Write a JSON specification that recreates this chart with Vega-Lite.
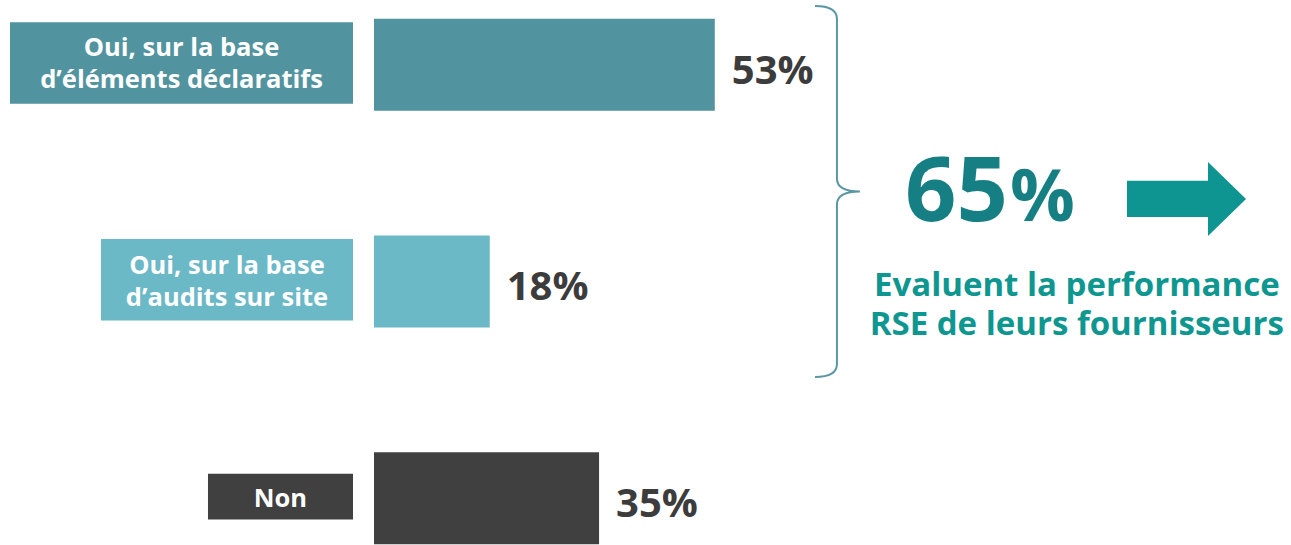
{
  "$schema": "https://vega.github.io/schema/vega-lite/v6.json",
  "width": 1291,
  "height": 545,
  "autosize": {"type": "fit", "contains": "padding"},
  "padding": 0,
  "background": "white",
  "config": {"view": {"stroke": null}, "font": "Open Sans"},
  "datasets": {
    "rows": [
      {"rank": 1, "label": "Oui, sur la base\nd’éléments déclaratifs", "value": 53, "group": "decl"},
      {"rank": 2, "label": "Oui, sur la base\nd’audits sur site", "value": 18, "group": "audit"},
      {"rank": 3, "label": "Non", "value": 35, "group": "non"}
    ],
    "notes": [
      {"item": "accolade"}
    ]
  },
  "data": {"name": "rows"},
  "layer": [
    {
      "transform": [
        {"calculate": "[-56.61, -42.46, -25.82][datum.rank - 1]", "as": "boxLeft"},
        {"calculate": "datum.rank == 3 ? 0.1055 : 0.188", "as": "halfH"},
        {"calculate": "datum.rank - 0.008 - datum.halfH", "as": "y0"},
        {"calculate": "datum.rank - 0.008 + datum.halfH", "as": "y1"}
      ],
      "mark": {"type": "rect"},
      "encoding": {
        "x": {"field": "boxLeft", "type": "quantitative", "scale": {"domain": [-58.165, 142.61], "nice": false, "zero": false, "padding": 0}, "axis": null},
        "x2": {"datum": -3.266},
        "y": {"field": "y0", "type": "quantitative", "scale": {"domain": [0.7018, 3.2018], "reverse": true, "nice": false, "zero": false, "padding": 0}, "axis": null},
        "y2": {"field": "y1"},
        "color": {"field": "group", "type": "nominal", "scale": {"domain": ["decl", "audit", "non"], "range": ["#5293a0", "#6bb8c7", "#404040"]}, "legend": null}
      }
    },
    {
      "transform": [
        {"calculate": "[-56.61, -42.46, -25.82][datum.rank - 1]", "as": "boxLeft"},
        {"calculate": "(datum.boxLeft - 3.266) / 2", "as": "boxCenter"},
        {"calculate": "datum.rank + [-9, -7, 9][datum.rank - 1] / 218", "as": "textY"}
      ],
      "mark": {"type": "text", "lineBreak": "\n", "lineHeight": 32, "fontSize": 25.5, "fontWeight": "bold", "color": "#ffffff", "align": "center", "baseline": "alphabetic"},
      "encoding": {
        "x": {"field": "boxCenter", "type": "quantitative"},
        "y": {"field": "textY", "type": "quantitative"},
        "text": {"field": "label"}
      }
    },
    {
      "mark": {"type": "bar", "orient": "horizontal", "size": 92},
      "encoding": {
        "x": {"field": "value", "type": "quantitative"},
        "x2": {"datum": 0},
        "y": {"field": "rank", "type": "quantitative"},
        "color": {"field": "group", "type": "nominal", "legend": null}
      }
    },
    {
      "transform": [
        {"calculate": "datum.value + '%'", "as": "pct"},
        {"calculate": "datum.rank + 0.087", "as": "pctY"}
      ],
      "mark": {"type": "text", "fontSize": 40, "fontWeight": "bold", "color": "#3c3c3c", "align": "left", "baseline": "alphabetic", "dx": 17},
      "encoding": {
        "x": {"field": "value", "type": "quantitative"},
        "y": {"field": "pctY", "type": "quantitative"},
        "text": {"field": "pct"}
      }
    },
    {
      "data": {"name": "notes"},
      "mark": {"type": "point", "shape": "M-0.121,-1Q-0.003,-1,-0.003,-0.93L-0.003,-0.07Q-0.003,0,0.121,0Q-0.003,0,-0.003,0.07L-0.003,0.93Q-0.003,1,-0.121,1", "size": 137641, "filled": false, "stroke": "#5a97a5", "strokeWidth": 2, "opacity": 1},
      "encoding": {
        "x": {"datum": 72.08},
        "y": {"datum": 1.5848}
      }
    },
    {
      "data": {"name": "notes"},
      "mark": {"type": "point", "shape": "M-1,-0.303L0.361,-0.303L0.361,-0.622L1,0L0.361,0.622L0.361,0.303L-1,0.303Z", "size": 14161, "filled": true, "fill": "#0e9591", "strokeWidth": 0, "opacity": 1},
      "encoding": {
        "x": {"datum": 126.36},
        "y": {"datum": 1.6192}
      }
    },
    {
      "data": {"name": "notes"},
      "mark": {"type": "text", "text": "65", "fontSize": 90, "fontWeight": "bold", "color": "#167f84", "align": "right", "baseline": "alphabetic"},
      "encoding": {
        "x": {"datum": 98.6},
        "y": {"datum": 1.7201}
      }
    },
    {
      "data": {"name": "notes"},
      "mark": {"type": "text", "text": "%", "fontSize": 72, "fontWeight": "bold", "color": "#167f84", "align": "left", "baseline": "alphabetic"},
      "encoding": {
        "x": {"datum": 98.9},
        "y": {"datum": 1.7201}
      }
    },
    {
      "data": {"name": "notes"},
      "mark": {"type": "text", "text": ["Evaluent la performance", "RSE de leurs fournisseurs"], "lineHeight": 39, "fontSize": 33, "fontWeight": "bold", "color": "#0e9690", "align": "center", "baseline": "alphabetic"},
      "encoding": {
        "x": {"datum": 109.3},
        "y": {"datum": 2.0688}
      }
    }
  ]
}
